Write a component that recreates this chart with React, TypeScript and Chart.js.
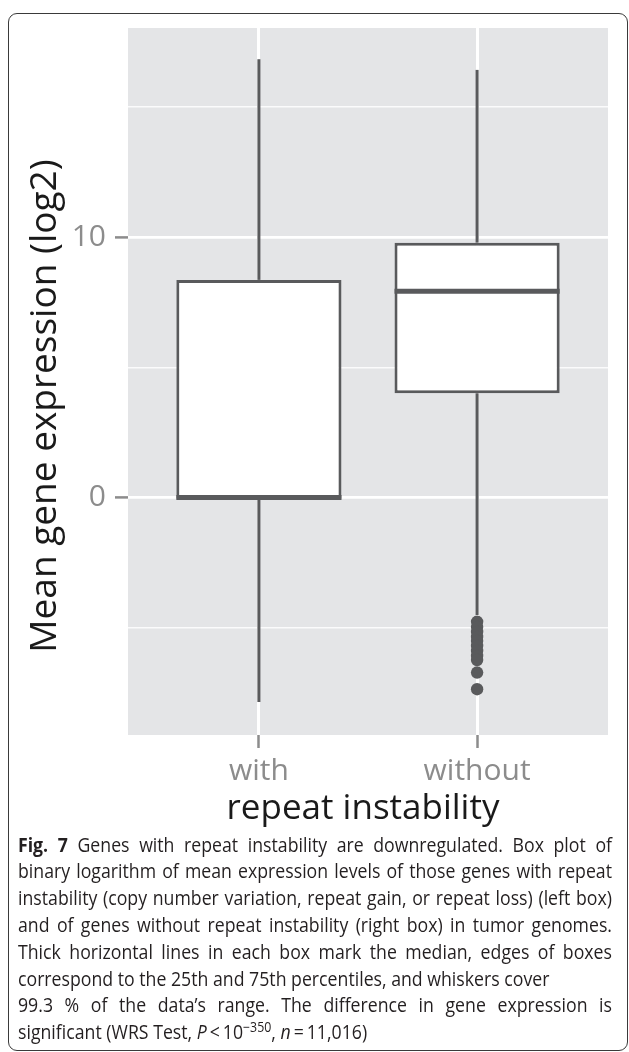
import React, { useEffect, useRef } from 'react';
import { Chart, registerables } from 'chart.js';

Chart.register(...registerables);

// ---- data ----
const CATEGORIES = ['with', 'without'];
const WHISKER_LOW = [-7.86, -4.52];
const Q1 = [-0.05, 4.0];
const MEDIAN = [0.0, 7.92];
const Q3 = [8.36, 9.79];
const WHISKER_HIGH = [16.84, 16.43];
const OUTLIERS_WITHOUT = [-4.78, -4.98, -5.17, -5.36, -5.52, -5.71, -5.9, -6.09, -6.25, -6.73, -7.37];
const Y_TICKS = [-5, 0, 5, 10, 15];
const Y_LABELED = [0, 10];
const Y_MIN = -9.13;
const Y_MAX = 18.04;

const X_TITLE = 'repeat instability';
const Y_TITLE = 'Mean gene expression (log2)';

// ---- styles ----
const BOX_COLOR = '#595a5c';
const PANEL_BG = '#e4e5e7';
const TICK_COLOR = '#8c8c8c';
const FONT = '"Open Sans", "Noto Sans", sans-serif';
const BOX_FRACTION = 0.757;
const HALF = BOX_FRACTION / 2;
const CAPTION_SCALE = 0.885;

const panelBg = {
  id: 'panelBg',
  beforeDraw(chart: any) {
    const { ctx, chartArea } = chart;
    if (!chartArea) return;
    ctx.save();
    ctx.fillStyle = PANEL_BG;
    ctx.fillRect(chartArea.left, chartArea.top, chartArea.right - chartArea.left, chartArea.bottom - chartArea.top);
    ctx.restore();
  },
};

function BoxChart() {
  const ref = useRef<HTMLCanvasElement | null>(null);
  useEffect(() => {
    if (!ref.current) return;
    const datasets: any[] = [];
    datasets.push({
      type: 'scatter',
      data: OUTLIERS_WITHOUT.map((v) => ({ x: 2, y: v })),
      pointRadius: 6.2,
      pointBackgroundColor: BOX_COLOR,
      pointBorderWidth: 0,
      order: 0,
    });
    CATEGORIES.forEach((_, i) => {
      datasets.push({
        type: 'line',
        data: [
          { x: i + 1 - HALF, y: MEDIAN[i] },
          { x: i + 1 + HALF, y: MEDIAN[i] },
        ],
        borderColor: BOX_COLOR,
        borderWidth: 5,
        borderCapStyle: 'butt',
        pointRadius: 0,
        fill: false,
        order: 1,
      });
    });
    datasets.push({
      type: 'bar',
      data: CATEGORIES.map((_, i) => ({ x: i + 1, y: [Q1[i], Q3[i]] })),
      backgroundColor: '#ffffff',
      borderColor: BOX_COLOR,
      borderWidth: 3,
      borderSkipped: false,
      categoryPercentage: 1,
      barPercentage: BOX_FRACTION,
      order: 2,
    });
    CATEGORIES.forEach((_, i) => {
      datasets.push({
        type: 'line',
        data: [
          { x: i + 1, y: Q3[i] },
          { x: i + 1, y: WHISKER_HIGH[i] },
        ],
        borderColor: BOX_COLOR,
        borderWidth: 3,
        borderCapStyle: 'butt',
        pointRadius: 0,
        fill: false,
        order: 3,
      });
      datasets.push({
        type: 'line',
        data: [
          { x: i + 1, y: Q1[i] },
          { x: i + 1, y: WHISKER_LOW[i] },
        ],
        borderColor: BOX_COLOR,
        borderWidth: 3,
        borderCapStyle: 'butt',
        pointRadius: 0,
        fill: false,
        order: 3,
      });
    });

    const chart = new Chart(ref.current, {
      type: 'bar',
      data: { datasets },
      plugins: [panelBg],
      options: {
        animation: false,
        responsive: false,
        devicePixelRatio: 1,
        layout: { padding: { left: 0, top: 28, right: 21, bottom: 0 } },
        plugins: { legend: { display: false }, tooltip: { enabled: false } },
        scales: {
          x: {
            type: 'linear',
            min: 0.4,
            max: 2.6,
            offset: false,
            border: { display: false },
            grid: {
              offset: false,
              color: '#ffffff',
              lineWidth: 3,
              tickColor: TICK_COLOR,
              tickLength: 13,
              tickWidth: 2.5,
            },
            ticks: {
              autoSkip: false,
              maxRotation: 0,
              padding: 5,
              color: TICK_COLOR,
              font: { family: FONT, size: 30 },
              callback: (v: any) => CATEGORIES[Math.round(Number(v)) - 1] ?? '',
            },
            afterBuildTicks: (s: any) => {
              s.ticks = CATEGORIES.map((_, i) => ({ value: i + 1 }));
            },
            afterFit: (s: any) => {
              s.height = 105;
            },
          } as any,
          y: {
            type: 'linear',
            min: Y_MIN,
            max: Y_MAX,
            border: { display: false },
            grid: {
              color: (c: any) => (Y_LABELED.includes(c.tick?.value) ? '#ffffff' : 'rgba(255,255,255,0.85)'),
              lineWidth: (c: any) => (Y_LABELED.includes(c.tick?.value) ? 2.8 : 1.4),
              tickColor: (c: any) => (Y_LABELED.includes(c.tick?.value) ? TICK_COLOR : 'rgba(0,0,0,0)'),
              tickLength: 13,
              tickWidth: 2.5,
            },
            ticks: {
              autoSkip: false,
              padding: 9,
              color: TICK_COLOR,
              font: { family: FONT, size: 30 },
              callback: (v: any) => (Y_LABELED.includes(Number(v)) ? String(v) : ''),
            },
            afterBuildTicks: (s: any) => {
              s.ticks = Y_TICKS.map((v) => ({ value: v }));
            },
            afterFit: (s: any) => {
              s.width = 128;
            },
          } as any,
        },
      } as any,
    });
    return () => chart.destroy();
  }, []);
  return (
    <canvas
      ref={ref}
      width={629}
      height={840}
      style={{ position: 'absolute', left: 0, top: 0, width: 629, height: 840, display: 'block' }}
    />
  );
}

type CapLine = { content: React.ReactNode; justify: boolean };

const CAPTION_LINES: CapLine[] = [
  { content: <><b>Fig. 7</b> Genes with repeat instability are downregulated. Box plot of</>, justify: true },
  { content: 'binary logarithm of mean expression levels of those genes with repeat', justify: true },
  { content: 'instability (copy number variation, repeat gain, or repeat loss) (left box)', justify: true },
  { content: 'and of genes without repeat instability (right box) in tumor genomes.', justify: true },
  { content: 'Thick horizontal lines in each box mark the median, edges of boxes', justify: true },
  { content: 'correspond to the 25th and 75th percentiles, and whiskers cover', justify: false },
  { content: "99.3 % of the data\u2019s range. The difference in gene expression is", justify: true },
  {
    content: (
      <>
        significant (WRS Test, <i>P</i>{'\u2009<\u2009'}10
        <span style={{ position: 'relative', top: '-0.5em', fontSize: '0.7em' }}>{'\u2212350'}</span>, <i>n</i>
        {'\u2009=\u200911,016)'}
      </>
    ),
    justify: false,
  },
];

export default function App() {
  return (
    <div style={{ position: 'absolute', left: 0, top: 0, width: 629, height: 1052, overflow: 'hidden', background: '#fff' }}>
      <div
        style={{
          position: 'absolute',
          left: 8,
          top: 13,
          width: 620,
          height: 1038,
          border: '1.5px solid #3a3a3a',
          borderRadius: 9,
          boxSizing: 'border-box',
        }}
      />
      <BoxChart />
      <div
        style={{
          position: 'absolute',
          left: 42 - 300,
          top: 406 - 25,
          width: 600,
          height: 50,
          lineHeight: '50px',
          textAlign: 'center',
          transform: 'rotate(-90deg)',
          fontFamily: FONT,
          fontSize: 37,
          color: '#1a1a1a',
          whiteSpace: 'nowrap',
        }}
      >
        {Y_TITLE}
      </div>
      <div
        style={{
          position: 'absolute',
          left: 363 - 300,
          top: 781,
          width: 600,
          height: 50,
          lineHeight: '50px',
          textAlign: 'center',
          fontFamily: FONT,
          fontSize: 35,
          color: '#1a1a1a',
          whiteSpace: 'nowrap',
        }}
      >
        {X_TITLE}
      </div>
      <div
        style={{
          position: 'absolute',
          left: 18,
          top: 831.6,
          width: 594 / CAPTION_SCALE,
          transform: `scaleX(${CAPTION_SCALE})`,
          transformOrigin: '0 0',
          fontFamily: FONT,
          fontSize: 20,
          color: '#231f20',
        }}
      >
        {CAPTION_LINES.map((l, i) => (
          <div
            key={i}
            style={{
              height: 26.8,
              lineHeight: '26.8px',
              textAlign: l.justify ? 'justify' : 'left',
              textAlignLast: l.justify ? 'justify' : 'left',
              whiteSpace: 'nowrap',
            } as any}
          >
            {l.content}
          </div>
        ))}
      </div>
    </div>
  );
}
